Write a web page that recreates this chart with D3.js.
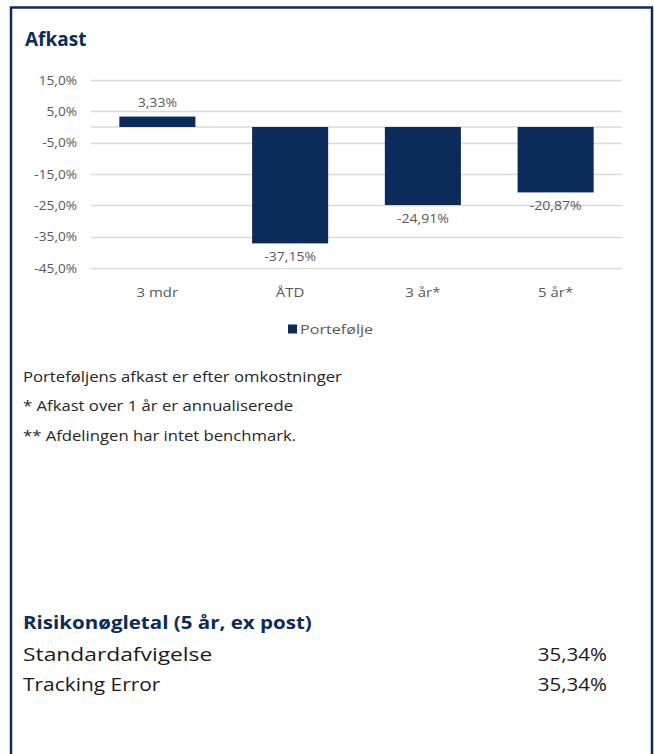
<!DOCTYPE html>
<html>
<head>
<meta charset="utf-8">
<script src="https://cdn.jsdelivr.net/npm/d3@7"></script>
<style>
  body { margin: 0; background: #fff; }
  svg { display: block; font-family: "Open Sans", sans-serif; }
  .tick-label { fill: #595959; font-size: 13px; }
  .note { fill: #262626; font-size: 14px; }
</style>
</head>
<body>
<div id="chart"></div>
<script>
(function() {
    'use strict';

    var categories = ['3 mdr', 'ÅTD', '3 år*', '5 år*'];
    var values = [3.33, -37.15, -24.91, -20.87];
    var yTicks = [15, 5, -5, -15, -25, -35, -45];
    var seriesName = 'Portefølje';
    var notes = [
        'Porteføljens afkast er efter omkostninger',
        '* Afkast over 1 år er annualiserede',
        '** Afdelingen har intet benchmark.'
    ];
    var riskLabels = ['Standardafvigelse', 'Tracking Error'];
    var riskValues = [35.34, 35.34];

    var navy = '#0b2c5b';
    var width = 654, height = 754;

    var da = d3.formatLocale({ decimal: ',', thousands: '.', grouping: [3], currency: ['', ' kr'], minus: '-' });
    var fmtTick = function(v) { return da.format('.1f')(v) + '%'; };
    var fmtVal = function(v) { return da.format('.2f')(v) + '%'; };

    // widen text a bit, the original face is a wide geometric sans
    function stretch(sel, k) {
        sel.each(function(d, i) {
            var w = this.getComputedTextLength();
            var f = typeof k === 'function' ? k(d, i) : k;
            d3.select(this)
                .attr('textLength', w * f)
                .attr('lengthAdjust', 'spacingAndGlyphs');
        });
    }

    var svg = d3.select('#chart').append('svg')
        .attr('width', width)
        .attr('height', height);

    // frame
    svg.append('path')
        .attr('d', 'M11,754 L11,7.5 L652,7.5 L652,754')
        .attr('fill', 'none')
        .attr('stroke', navy)
        .attr('stroke-width', 2.5);

    svg.append('text')
        .attr('x', 25).attr('y', 46)
        .attr('fill', navy)
        .attr('font-size', 19)
        .attr('font-weight', 700)
        .text('Afkast');

    var x = d3.scaleBand()
        .domain(categories)
        .range([91, 622])
        .paddingInner(0.427)
        .paddingOuter(0.2135);

    var y = d3.scaleLinear()
        .domain([-45, 15])
        .range([268, 80]);

    // gridlines
    svg.append('g')
        .selectAll('line')
        .data(yTicks)
        .join('line')
        .attr('x1', 91).attr('x2', 622)
        .attr('y1', function(d) { return Math.round(y(d)) + 0.5; })
        .attr('y2', function(d) { return Math.round(y(d)) + 0.5; })
        .attr('stroke', '#d9d9d9')
        .attr('stroke-width', 1.5);

    svg.append('g')
        .selectAll('text')
        .data(yTicks)
        .join('text')
        .attr('class', 'tick-label')
        .attr('x', 77)
        .attr('y', function(d) { return y(d); })
        .attr('dy', '0.35em')
        .attr('text-anchor', 'end')
        .text(fmtTick)
        .call(stretch, 1.05);

    // zero line
    svg.append('line')
        .attr('x1', 91).attr('x2', 622)
        .attr('y1', y(0)).attr('y2', y(0))
        .attr('stroke', '#d9d9d9')
        .attr('stroke-width', 1.5);

    // bars
    svg.append('g')
        .selectAll('rect')
        .data(values)
        .join('rect')
        .attr('x', function(d, i) { return x(categories[i]); })
        .attr('width', x.bandwidth())
        .attr('y', function(d) { return y(Math.max(0, d)); })
        .attr('height', function(d) { return Math.abs(y(d) - y(0)); })
        .attr('fill', navy);

    svg.append('g')
        .selectAll('text')
        .data(values)
        .join('text')
        .attr('class', 'tick-label')
        .attr('font-size', 15)
        .attr('x', function(d, i) { return x(categories[i]) + x.bandwidth() / 2; })
        .attr('y', function(d) { return d >= 0 ? y(d) - 14 : y(d) + 13; })
        .attr('dy', '0.35em')
        .attr('text-anchor', 'middle')
        .text(fmtVal)
        .call(stretch, 1.08);

    svg.append('g')
        .selectAll('text')
        .data(categories)
        .join('text')
        .attr('class', 'tick-label')
        .attr('font-size', 15)
        .attr('x', function(d) { return x(d) + x.bandwidth() / 2; })
        .attr('y', 292)
        .attr('dy', '0.35em')
        .attr('text-anchor', 'middle')
        .text(function(d) { return d; })
        .call(stretch, 1.15);

    // legend
    var legend = svg.append('g').attr('transform', 'translate(288, 329)');
    legend.append('rect')
        .attr('x', 0).attr('y', -4.5)
        .attr('width', 9).attr('height', 9)
        .attr('fill', navy);
    legend.append('text')
        .attr('class', 'tick-label')
        .attr('font-size', 15)
        .attr('x', 12).attr('y', 0)
        .attr('dy', '0.35em')
        .text(seriesName)
        .call(stretch, 1.24);

    // notes
    svg.append('g')
        .selectAll('text')
        .data(notes)
        .join('text')
        .attr('class', 'note')
        .attr('x', 23)
        .attr('y', function(d, i) { return 377 + i * 29.5; })
        .attr('dy', '0.35em')
        .text(function(d) { return d; })
        .call(stretch, 1.19);

    // risk table
    svg.append('text')
        .attr('x', 23).attr('y', 623)
        .attr('dy', '0.35em')
        .attr('fill', navy)
        .attr('font-size', 18)
        .attr('font-weight', 700)
        .text('Risikonøgletal (5 år, ex post)')
        .call(stretch, 1.14);

    var rows = svg.append('g')
        .selectAll('g')
        .data(riskLabels)
        .join('g')
        .attr('transform', function(d, i) { return 'translate(0,' + (654 + i * 30) + ')'; });

    rows.append('text')
        .attr('x', 23)
        .attr('dy', '0.35em')
        .attr('fill', '#1a1a1a')
        .attr('font-size', 19)
        .text(function(d) { return d; })
        .call(stretch, function(d, i) { return i === 0 ? 1.2 : 1.1; });

    rows.append('text')
        .attr('x', 607)
        .attr('dy', '0.35em')
        .attr('text-anchor', 'end')
        .attr('fill', '#1a1a1a')
        .attr('font-size', 19)
        .text(function(d, i) { return fmtVal(riskValues[i]); })
        .call(stretch, 1.08);
})();
</script>
</body>
</html>
